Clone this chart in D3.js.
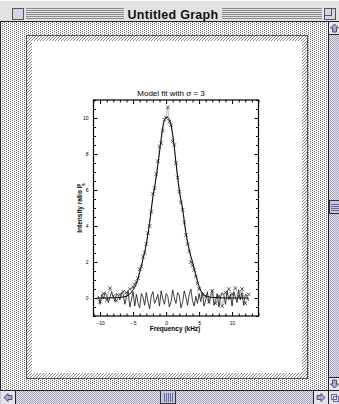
<!DOCTYPE html>
<html>
<head>
<meta charset="utf-8">
<script src="https://cdn.jsdelivr.net/npm/d3@7"></script>
<style>
  html, body { margin: 0; padding: 0; background: #fff; }
  svg { display: block; }
</style>
</head>
<body>
<div id="win"></div>
<script>
// fitted model curve (x in kHz, y = intensity ratio)
const fitX = [-10.5, -9, -8, -7, -6.5, -6, -5.5, -5, -4.5, -4, -3.5, -3, -2.5, -2, -1.5, -1, -0.5, 0, 0.5, 1, 1.5, 2, 2.5, 3, 3.5, 4, 4.5, 5, 5.5, 6, 6.5, 7, 8, 9, 10, 11, 12.5];
const fitY = [0, 0, 0.01, 0.03, 0.06, 0.1, 0.22, 0.45, 0.8, 1.42, 2.15, 3.0, 4.2, 5.6, 6.7, 8.1, 9.5, 10.05, 9.9, 9.1, 7.5, 6.0, 4.95, 3.65, 2.7, 2.0, 1.3, 0.65, 0.28, 0.12, 0.06, 0.03, 0.01, 0, 0, 0, 0];

// measured points (crosses)
const dataX = [-10, -9.5, -9, -8.5, -8, -7.5, -7, -6.5, -6, -5.5,
  -5, -4.75, -4.5, -4.25, -4, -3.75, -3.5, -3.25, -3, -2.75, -2.5, -2.25, -2, -1.75, -1.5, -1.25, -1, -0.75, -0.5, -0.25,
  0, 0.25, 0.5, 0.75, 1, 1.25, 1.5, 1.75, 2, 2.25, 2.5, 2.75, 3, 3.25, 3.5, 3.75, 4, 4.25, 4.5, 4.75, 5,
  5.5, 6, 6.5, 7, 7.5, 8, 8.5, 9, 9.5, 10, 10.5, 11, 11.5, 12, 12.5];
const dataY = [-0.2, 0.25, -0.1, 0.55, 0.1, -0.15, 0.2, 0.35, 0.3, 0.5,
  0.6, 0.75, 0.9, 1.1, 1.6, 1.75, 2.3, 2.5, 3.0, 3.6, 4.0, 4.8, 5.8, 6.1, 6.9, 7.6, 8.4, 8.6, 9.3, 9.9,
  10.0, 10.6, 9.8, 9.6, 8.7, 8.5, 7.5, 6.7, 5.9, 5.3, 4.9, 4.2, 3.5, 3.0, 2.6, 2.0, 1.8, 1.55, 1.2, 0.8, 0.5,
  0.2, 0.1, -0.2, 0.4, -0.3, 0.1, -0.45, 0.3, 0.5, 0.2, 0.55, 0.1, 0.5, -0.3, 0.2];

// residual trace along the baseline
const residX = [-10.25, -10, -9.75, -9.5, -9.25, -9, -8.75, -8.5, -8.25, -8, -7.75, -7.5, -7.25, -7, -6.75, -6.5, -6.25, -6, -5.75, -5.5, -5.25, -5,
  -4.75, -4.5, -4.25, -4, -3.75, -3.5, -3.25, -3, -2.75, -2.5, -2.25, -2, -1.75, -1.5, -1.25, -1, -0.75, -0.5, -0.25, 0,
  0.25, 0.5, 0.75, 1, 1.25, 1.5, 1.75, 2, 2.25, 2.5, 2.75, 3, 3.25, 3.5, 3.75, 4, 4.25, 4.5, 4.75, 5,
  5.25, 5.5, 5.75, 6, 6.25, 6.5, 6.75, 7, 7.25, 7.5, 7.75, 8, 8.25, 8.5, 8.75, 9, 9.25, 9.5, 9.75, 10,
  10.25, 10.5, 10.75, 11, 11.25, 11.5, 11.75, 12, 12.25, 12.5];
const residY = [0.1, -0.35, 0.2, -0.05, 0.3, 0.15, -0.25, 0.05, 0.35, 0.1, -0.2, 0.25, 0.15, -0.1, 0.3, 0.2, -0.35, 0.1, 0.4, -0.5, -0.1, 0.35,
  -0.45, 0.2, -0.3, -0.55, 0.25, 0.05, -0.4, 0.3, -0.2, -0.6, 0.1, 0.35, -0.3, -0.1, 0.2, -0.45, 0.4, -0.05, -0.35, 0.25,
  0.1, -0.5, -0.2, 0.45, 0.0, -0.3, 0.3, 0.15, -0.55, -0.25, 0.4, 0.05, -0.4, 0.2, 0.5, -0.15, -0.45, 0.1, -0.3, 0.25,
  -0.2, 0.3, -0.45, -0.1, 0.35, -0.3, 0.1, 0.45, -0.4, -0.15, 0.25, -0.5, 0.05, 0.3, 0.15, -0.35, 0.4, -0.1, 0.2, -0.45,
  0.35, 0.05, -0.25, 0.45, -0.1, 0.3, -0.4, 0.2, 0.1, -0.15];

const xMajor = [-10, -5, 0, 5, 10];
const xMinor = [-11, -9, -8, -7, -6, -4, -3, -2, -1, 1, 2, 3, 4, 6, 7, 8, 9, 11, 12, 13, 14];
const yMajor = [0, 2, 4, 6, 8, 10];
const yMinor = [-1, -0.5, 0.5, 1, 1.5, 2.5, 3, 3.5, 4.5, 5, 5.5, 6.5, 7, 7.5, 8.5, 9, 9.5, 10.5, 11];

const W = 339, H = 404;
const svg = d3.select('#win').append('svg')
  .attr('width', W)
  .attr('height', H);

const defs = svg.append('defs');

// grey desktop-ish stipple, offset dots
const stip = defs.append('pattern').attr('id', 'stip')
  .attr('width', 4).attr('height', 2).attr('patternUnits', 'userSpaceOnUse');
stip.append('rect').attr('width', 4).attr('height', 2).attr('fill', '#fafafa');
stip.append('rect').attr('width', 1).attr('height', 1).attr('fill', '#6e6e6e');
stip.append('rect').attr('x', 2).attr('y', 1).attr('width', 1).attr('height', 1).attr('fill', '#6e6e6e');

// scrollbar track stipple
const track = defs.append('pattern').attr('id', 'track')
  .attr('width', 2).attr('height', 2).attr('patternUnits', 'userSpaceOnUse');
track.append('rect').attr('width', 2).attr('height', 2).attr('fill', '#e2e2ec');
track.append('rect').attr('width', 1).attr('height', 1).attr('fill', '#a4a4bc');
track.append('rect').attr('x', 1).attr('y', 1).attr('width', 1).attr('height', 1).attr('fill', '#a4a4bc');

// page border hatch
const hatch = defs.append('pattern').attr('id', 'hatch')
  .attr('width', 3).attr('height', 3).attr('patternUnits', 'userSpaceOnUse');
hatch.append('rect').attr('width', 3).attr('height', 3).attr('fill', '#fff');
hatch.append('path').attr('d', 'M-1,1L1,-1M0,3L3,0M2,4L4,2')
  .attr('stroke', '#555').attr('stroke-width', 0.7);

// ---- window chrome ----
svg.append('rect').attr('x', 0).attr('y', 22).attr('width', 329).attr('height', 368).attr('fill', 'url(#stip)');

// title bar
svg.append('rect').attr('x', 0).attr('y', 0).attr('width', W).attr('height', 22).attr('fill', '#e2e2e2');
svg.append('line').attr('x1', 0).attr('x2', W).attr('y1', 0.5).attr('y2', 0.5).attr('stroke', '#f8f8f8');
[8, 10, 12, 14, 16, 18].forEach(function(yy) {
  [[26, 124], [222, 322]].forEach(function(s) {
    svg.append('line').attr('x1', s[0]).attr('x2', s[1]).attr('y1', yy + 0.5).attr('y2', yy + 0.5)
      .attr('stroke', '#8a8a8a');
  });
});
svg.append('rect').attr('x', 12.5).attr('y', 8.5).attr('width', 11).attr('height', 11)
  .attr('fill', '#d4d4e4').attr('stroke', '#555');
svg.append('rect').attr('x', 324.5).attr('y', 8.5).attr('width', 11).attr('height', 11)
  .attr('fill', '#d4d4e4').attr('stroke', '#555');
svg.append('rect').attr('x', 324.5).attr('y', 8.5).attr('width', 7).attr('height', 7)
  .attr('fill', 'none').attr('stroke', '#555');
svg.append('text').attr('x', 173).attr('y', 18.5)
  .attr('text-anchor', 'middle')
  .style('font-family', 'Liberation Sans, Arial, sans-serif')
  .style('font-weight', 'bold').style('font-size', '12.5px')
  .style('letter-spacing', '0.3px')
  .attr('fill', '#111')
  .text('Untitled Graph');
svg.append('line').attr('x1', 0).attr('x2', W).attr('y1', 21.5).attr('y2', 21.5).attr('stroke', '#222');
svg.append('line').attr('x1', 0.5).attr('x2', 0.5).attr('y1', 22).attr('y2', H).attr('stroke', '#222');

// vertical scroll bar
svg.append('rect').attr('x', 329).attr('y', 22).attr('width', 10).attr('height', 368).attr('fill', 'url(#track)');
svg.append('line').attr('x1', 328.5).attr('x2', 328.5).attr('y1', 22).attr('y2', 390).attr('stroke', '#222');
function vArrow(y0, up) {
  svg.append('rect').attr('x', 329).attr('y', y0).attr('width', 10).attr('height', 12)
    .attr('fill', '#e4e4ee');
  svg.append('line').attr('x1', 329).attr('x2', W).attr('y1', up ? y0 + 12.5 : y0 - 0.5)
    .attr('y2', up ? y0 + 12.5 : y0 - 0.5).attr('stroke', '#222');
  const cx = 334.5, cy = y0 + 6;
  const d = up
    ? `M${cx},${cy - 4}L${cx + 4},${cy}L${cx + 2},${cy}L${cx + 2},${cy + 4}L${cx - 2},${cy + 4}L${cx - 2},${cy}L${cx - 4},${cy}Z`
    : `M${cx},${cy + 4}L${cx + 4},${cy}L${cx + 2},${cy}L${cx + 2},${cy - 4}L${cx - 2},${cy - 4}L${cx - 2},${cy}L${cx - 4},${cy}Z`;
  svg.append('path').attr('d', d).attr('fill', '#a8a8d8').attr('stroke', '#333').attr('stroke-width', 0.8);
}
vArrow(22, true);
vArrow(378, false);
svg.append('rect').attr('x', 329.5).attr('y', 200.5).attr('width', 10).attr('height', 13)
  .attr('fill', '#c4c4e4').attr('stroke', '#333');
[204, 206, 208, 210].forEach(function(yy) {
  svg.append('line').attr('x1', 331).attr('x2', 339).attr('y1', yy + 0.5).attr('y2', yy + 0.5).attr('stroke', '#6a6a9a');
});

// horizontal scroll bar
svg.append('rect').attr('x', 0).attr('y', 390).attr('width', 329).attr('height', 14).attr('fill', 'url(#track)');
svg.append('line').attr('x1', 0).attr('x2', W).attr('y1', 390.5).attr('y2', 390.5).attr('stroke', '#222');
function hArrow(x0, left) {
  svg.append('rect').attr('x', x0).attr('y', 391).attr('width', 14).attr('height', 13).attr('fill', '#e4e4ee');
  svg.append('line').attr('x1', left ? x0 + 14.5 : x0 - 0.5).attr('x2', left ? x0 + 14.5 : x0 - 0.5)
    .attr('y1', 391).attr('y2', H).attr('stroke', '#222');
  const cx = x0 + 7, cy = 397.5;
  const d = left
    ? `M${cx - 4},${cy}L${cx},${cy - 4}L${cx},${cy - 2}L${cx + 4},${cy - 2}L${cx + 4},${cy + 2}L${cx},${cy + 2}L${cx},${cy + 4}Z`
    : `M${cx + 4},${cy}L${cx},${cy - 4}L${cx},${cy - 2}L${cx - 4},${cy - 2}L${cx - 4},${cy + 2}L${cx},${cy + 2}L${cx},${cy + 4}Z`;
  svg.append('path').attr('d', d).attr('fill', '#a8a8d8').attr('stroke', '#333').attr('stroke-width', 0.8);
}
hArrow(1, true);
hArrow(314, false);
svg.append('rect').attr('x', 160.5).attr('y', 390.5).attr('width', 15).attr('height', 13)
  .attr('fill', '#c4c4e4').attr('stroke', '#333');
[164, 166, 168, 170, 172].forEach(function(xx) {
  svg.append('line').attr('x1', xx + 0.5).attr('x2', xx + 0.5).attr('y1', 393).attr('y2', 402).attr('stroke', '#6a6a9a');
});
// grow box
svg.append('rect').attr('x', 329).attr('y', 391).attr('width', 10).attr('height', 13).attr('fill', '#e4e4ee');
svg.append('line').attr('x1', 328.5).attr('x2', 328.5).attr('y1', 390).attr('y2', H).attr('stroke', '#222');
svg.append('rect').attr('x', 331.5).attr('y', 394.5).attr('width', 5).attr('height', 5).attr('fill', 'none').attr('stroke', '#6a6a9a');
svg.append('rect').attr('x', 333.5).attr('y', 396.5).attr('width', 5).attr('height', 5).attr('fill', 'none').attr('stroke', '#6a6a9a');

// page with hatched frame
svg.append('rect').attr('x', 26).attr('y', 35).attr('width', 282).attr('height', 344).attr('fill', 'url(#hatch)');
svg.append('rect').attr('x', 26.5).attr('y', 35.5).attr('width', 281).attr('height', 343)
  .attr('fill', 'none').attr('stroke', '#555');
svg.append('rect').attr('x', 32).attr('y', 41).attr('width', 270).attr('height', 332).attr('fill', '#fff');

// ---- the graph ----
const x = d3.scaleLinear().domain([-11, 14]).range([93.5, 258.5]);
const y = d3.scaleLinear().domain([-1, 11]).range([316, 100]);

const g = svg.append('g');
const fontSm = '5px';

function styleAxis(sel) {
  sel.select('.domain').remove();
  sel.selectAll('line').attr('stroke', '#000').attr('stroke-width', 1);
  sel.selectAll('text').style('font-family', 'Liberation Sans, Arial, sans-serif')
    .style('font-size', fontSm).attr('fill', '#000');
}

g.append('g').attr('transform', `translate(0,${y.range()[0]})`)
  .call(d3.axisBottom(x).tickValues(xMajor).tickSize(-4).tickPadding(5).tickFormat(d3.format('d')))
  .call(styleAxis);
g.append('g').attr('transform', `translate(0,${y.range()[0]})`)
  .call(d3.axisBottom(x).tickValues(xMinor).tickSize(-2.5).tickFormat(''))
  .call(styleAxis);
g.append('g').attr('transform', `translate(0,${y.range()[1]})`)
  .call(d3.axisTop(x).tickValues(xMajor).tickSize(-4).tickFormat(''))
  .call(styleAxis);
g.append('g').attr('transform', `translate(0,${y.range()[1]})`)
  .call(d3.axisTop(x).tickValues(xMinor).tickSize(-2.5).tickFormat(''))
  .call(styleAxis);

g.append('g').attr('transform', `translate(${x.range()[0]},0)`)
  .call(d3.axisLeft(y).tickValues(yMajor).tickSize(-4).tickPadding(5).tickFormat(d3.format('d')))
  .call(styleAxis);
g.append('g').attr('transform', `translate(${x.range()[0]},0)`)
  .call(d3.axisLeft(y).tickValues(yMinor).tickSize(-2.5).tickFormat(''))
  .call(styleAxis);
g.append('g').attr('transform', `translate(${x.range()[1]},0)`)
  .call(d3.axisRight(y).tickValues(yMajor).tickSize(-4).tickFormat(''))
  .call(styleAxis);
g.append('g').attr('transform', `translate(${x.range()[1]},0)`)
  .call(d3.axisRight(y).tickValues(yMinor).tickSize(-2.5).tickFormat(''))
  .call(styleAxis);

// frame
g.append('rect')
  .attr('x', x.range()[0]).attr('y', y.range()[1])
  .attr('width', x.range()[1] - x.range()[0])
  .attr('height', y.range()[0] - y.range()[1])
  .attr('fill', 'none').attr('stroke', '#000').attr('stroke-width', 1.2);

// residual trace
const resid = residX.map(function(d, i) { return { x: d, y: residY[i] }; });
g.append('path').datum(resid)
  .attr('fill', 'none').attr('stroke', '#111').attr('stroke-width', 0.8)
  .attr('d', d3.line().x(d => x(d.x)).y(d => y(d.y)));

// data connected lightly
const pts = dataX.map(function(d, i) { return { x: d, y: dataY[i] }; });
g.append('path').datum(pts)
  .attr('fill', 'none').attr('stroke', '#888').attr('stroke-width', 0.6)
  .attr('d', d3.line().x(d => x(d.x)).y(d => y(d.y)));

// fit curve
const fit = fitX.map(function(d, i) { return { x: d, y: fitY[i] }; });
g.append('path').datum(fit)
  .attr('fill', 'none').attr('stroke', '#000').attr('stroke-width', 1)
  .attr('d', d3.line().curve(d3.curveMonotoneX).x(d => x(d.x)).y(d => y(d.y)));

// cross markers
g.selectAll('.pt').data(pts).enter().append('path')
  .attr('class', 'pt')
  .attr('transform', d => `translate(${x(d.x)},${y(d.y)})`)
  .attr('d', 'M-1.8,-1.8L1.8,1.8M-1.8,1.8L1.8,-1.8')
  .attr('stroke', '#222').attr('stroke-width', 0.7);

// titles
const cx = (x.range()[0] + x.range()[1]) / 2;
g.append('text').attr('x', cx - 5).attr('y', 96)
  .attr('text-anchor', 'middle')
  .style('font-family', 'Liberation Sans, Arial, sans-serif').style('font-size', '8px')
  .text('Model fit with σ = 3');

g.append('text').attr('x', cx - 1).attr('y', 331)
  .attr('text-anchor', 'middle')
  .style('font-family', 'Liberation Sans, Arial, sans-serif').style('font-size', '6.5px')
  .style('font-weight', 'bold')
  .text('Frequency (kHz)');

const yl = g.append('text')
  .attr('transform', `translate(82,${(y.range()[0] + y.range()[1]) / 2}) rotate(-90)`)
  .attr('text-anchor', 'middle')
  .style('font-family', 'Liberation Sans, Arial, sans-serif').style('font-size', '6.5px')
  .style('font-weight', 'bold');
yl.append('tspan').text('Intensity ratio I');
yl.append('tspan').attr('baseline-shift', 'super').style('font-size', '4.5px').text('p');
yl.append('tspan').attr('dx', '-2').attr('baseline-shift', 'sub').style('font-size', '4.5px').text('s');
</script>
</body>
</html>
